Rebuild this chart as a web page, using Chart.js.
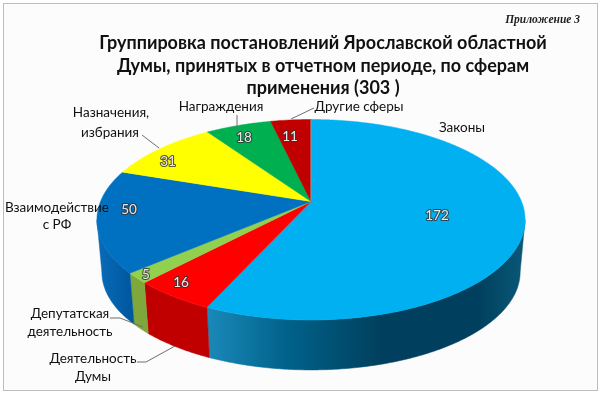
<!DOCTYPE html>
<html>
<head>
<meta charset="utf-8">
<script src="https://cdn.jsdelivr.net/npm/chart.js@4"></script>
<style>
html, body { margin: 0; padding: 0; background: #fff; }
#wrap { position: relative; width: 600px; height: 396px; overflow: hidden; }
#frame { position: absolute; left: 3px; top: 3px; width: 593px; height: 386px; border: 1px solid #bdbdbd; background: #fcfcfc; }
canvas { position: absolute; left: 0; top: 0; }
</style>
</head>
<body>
<div id="wrap">
<div id="frame"></div>
<canvas id="myChart" width="600" height="396"></canvas>
</div>
<script>
const categories = ['Законы', 'Деятельность Думы', 'Депутатская деятельность', 'Взаимодействие с РФ', 'Назначения, избрания', 'Награждения', 'Другие сферы'];
const values = [172, 16, 5, 50, 31, 18, 11];
const titleLines = ['Группировка постановлений Ярославской областной', 'Думы, принятых в отчетном периоде, по сферам', 'применения (303 )'];
const noteText = 'Приложение 3';

const topColors = ['#00b0f0', '#ff0000', '#92d050', '#0070c0', '#ffff00', '#00b050', '#c00000'];
// wall colours, left edge to right edge of the picture
const wallStops = [
    [[0, '#1a88b8'], [0.25, '#00628a'], [0.55, '#003f5d'], [0.85, '#00405e'], [1, '#0a5878']],
    [[0, '#c00000'], [1, '#c00000']],
    [[0, '#7fa83c'], [1, '#7fa83c']],
    [[0, '#0a6cb8'], [1, '#0058a0']],
    [[0, '#cccc00'], [1, '#cccc00']],
    [[0, '#008c40'], [1, '#008c40']],
    [[0, '#990000'], [1, '#990000']]
];

// text placement, px
const valueLabelPos = [[437, 216], [181, 283], [146, 275], [129, 210], [168, 162], [244, 138], [290, 137]];
const nameLabels = [
    ['Законы', 462, 128],
    ['Другие сферы', 359, 107],
    ['Награждения', 221, 107],
    ['Назначения,', 111, 113],
    ['избрания', 110, 133],
    ['Взаимодействие', 57, 208],
    ['с РФ', 57, 225],
    ['Депутатская', 70, 314],
    ['деятельность', 70, 332],
    ['Деятельность', 93, 359],
    ['Думы', 93, 377]
];
const leaders = [
    [[314, 108], [291, 119]],
    [[237, 115], [237, 130]],
    [[142, 135], [159, 148]],
    [[110, 318], [120, 318], [143, 327]],
    [[137, 362], [146, 362], [175, 346]]
];

// perspective of the disc, worked out from the picture
const view = { cx: 311, cy: 201.5, a: 210.5, b: 96.9, k: -0.182, depth: 52.7, shrink: 0.977 };
// angle where the top ellipse is widest, the wall is hidden above it
const wallEdge = Math.asin(-view.k);

function project(t, r, low) {
    let u = r * Math.cos(t);
    let v = r * Math.sin(t);
    let w = 1 + view.k * v;
    let s = low ? view.shrink : 1;
    return {
        x: view.cx + s * view.a * u / w,
        y: view.cy + (low ? view.depth : 0) + s * view.b * v / w
    };
}

function slicePath(ctx, arc) {
    ctx.beginPath();
    let c = project(0, 0);
    ctx.moveTo(c.x, c.y);
    for (let t = arc.startAngle; t < arc.endAngle; t += 0.01) {
        let p = project(t, 1);
        ctx.lineTo(p.x, p.y);
    }
    let e = project(arc.endAngle, 1);
    ctx.lineTo(e.x, e.y);
    ctx.closePath();
}

function wallPath(ctx, arc) {
    let from = Math.max(arc.startAngle, wallEdge);
    let to = Math.min(arc.endAngle, Math.PI - wallEdge);
    if (to <= from) return false;
    ctx.beginPath();
    for (let t = from; t < to; t += 0.01) {
        let p = project(t, 1);
        ctx.lineTo(p.x, p.y);
    }
    let e = project(to, 1);
    ctx.lineTo(e.x, e.y);
    for (let t = to; t > from; t -= 0.01) {
        let p = project(t, 1, true);
        ctx.lineTo(p.x, p.y);
    }
    let s = project(from, 1, true);
    ctx.lineTo(s.x, s.y);
    ctx.closePath();
    return true;
}

function wallFill(ctx, arc, i) {
    let pts = [];
    for (let t = arc.startAngle; t <= arc.endAngle; t += 0.02) {
        let q = project(t, 1);
        if (t >= wallEdge && t <= Math.PI - wallEdge) pts.push(q.x);
    }
    if (!pts.length) return topColors[i];
    let g = ctx.createLinearGradient(Math.min(...pts), 0, Math.max(...pts), 0);
    wallStops[i].forEach((st) => g.addColorStop(st[0], st[1]));
    return g;
}

function outlinedText(ctx, text, x, y) {
    ctx.lineWidth = 2.2;
    ctx.lineJoin = 'round';
    ctx.strokeStyle = 'rgba(50,50,50,0.8)';
    ctx.strokeText(text, x, y);
    ctx.fillStyle = '#e8e8e8';
    ctx.fillText(text, x, y);
}

const pie3d = {
    id: 'pie3d',
    beforeDatasetDraw(chart, args) {
        const ctx = chart.ctx;
        const arcs = args.meta.data;
        ctx.save();

        // side walls first, top faces cover the hidden part
        arcs.forEach((arc, i) => {
            if (wallPath(ctx, arc)) {
                let fill = wallFill(ctx, arc, i);
                ctx.fillStyle = fill;
                ctx.strokeStyle = fill;
                ctx.lineWidth = 0.5;
                ctx.fill();
                ctx.stroke();
            }
        });
        arcs.forEach((arc, i) => {
            slicePath(ctx, arc);
            ctx.fillStyle = topColors[i];
            ctx.strokeStyle = topColors[i];
            ctx.lineWidth = 0.5;
            ctx.fill();
            ctx.stroke();
        });

        // thin grey seam where the first slice starts
        let c = project(0, 0);
        let top = project(arcs[0].startAngle, 1);
        ctx.strokeStyle = '#9aa5ab';
        ctx.lineWidth = 1;
        ctx.beginPath();
        ctx.moveTo(c.x, c.y);
        ctx.lineTo(top.x, top.y);
        ctx.stroke();

        ctx.restore();
        return false;
    },
    afterDraw(chart) {
        const ctx = chart.ctx;
        ctx.save();
        ctx.textAlign = 'center';
        ctx.textBaseline = 'middle';

        ctx.strokeStyle = '#6e6e6e';
        ctx.lineWidth = 1;
        leaders.forEach((line) => {
            ctx.beginPath();
            line.forEach((p, i) => i ? ctx.lineTo(p[0], p[1]) : ctx.moveTo(p[0], p[1]));
            ctx.stroke();
        });

        ctx.font = '13.5px Lato, "Noto Sans"';
        ctx.fillStyle = '#111';
        nameLabels.forEach((l) => ctx.fillText(l[0], l[1], l[2]));

        ctx.font = '13.5px Lato, "Noto Sans"';
        values.forEach((val, i) => outlinedText(ctx, String(val), valueLabelPos[i][0], valueLabelPos[i][1]));

        ctx.font = 'italic bold 11.5px "Liberation Serif"';
        ctx.textAlign = 'right';
        ctx.fillStyle = '#222';
        ctx.fillText(noteText, 580, 20);
        ctx.restore();
    }
};

new Chart(document.getElementById('myChart'), {
    type: 'pie',
    data: {
        labels: categories,
        datasets: [{ data: values, backgroundColor: topColors, borderWidth: 0 }]
    },
    options: {
        responsive: false,
        animation: false,
        events: [],
        layout: { padding: { left: 46 } },
        plugins: {
            legend: { display: false },
            tooltip: { enabled: false },
            title: {
                display: true,
                text: titleLines,
                color: '#111',
                font: { family: 'Lato, "Noto Sans"', size: 18, weight: 'bold', lineHeight: 1.25 },
                padding: { top: 32, bottom: 0 }
            }
        }
    },
    plugins: [pie3d]
});
</script>
</body>
</html>
